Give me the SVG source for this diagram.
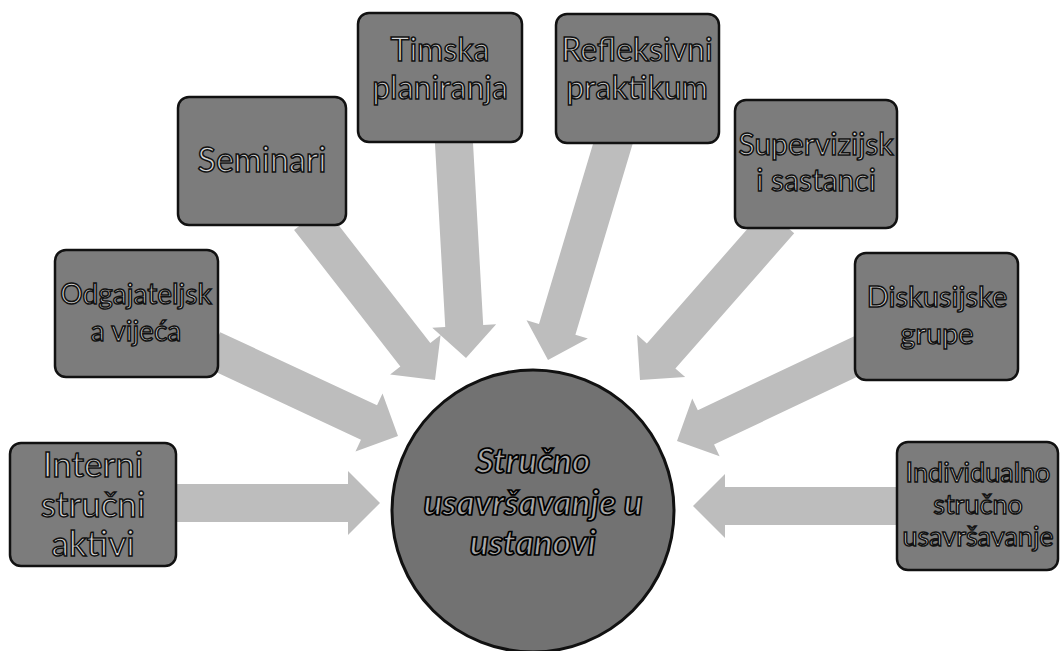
<svg xmlns="http://www.w3.org/2000/svg" width="1060" height="651" viewBox="0 0 1060 651">
<style>
.box{fill:#7c7c7c;stroke:#111;stroke-width:2.5}
.circ{fill:#727272;stroke:#111;stroke-width:3}
.arr{fill:#bdbdbd}
.t{font-family:Lato,"Liberation Sans",sans-serif;text-anchor:middle;fill:#d6d6d6;stroke:#121212;stroke-width:1.5}
.c{font-family:Lato,"Liberation Sans",sans-serif;font-weight:bold;font-style:italic;text-anchor:middle;fill:#a8a8a8;stroke:#000;stroke-width:1.7;font-size:35px}
</style>
<rect width="1060" height="651" fill="#fff"/>
<g id="connectors">
<polygon class="arr" transform="translate(380,503) rotate(0)" points="-205,-19 -32,-19 -32,-32 0,0 -32,32 -32,19 -205,19"/>
<polygon class="arr" transform="translate(693,506) rotate(180)" points="-210,-19 -32,-19 -32,-32 0,0 -32,32 -32,19 -210,19"/>
<polygon class="arr" transform="translate(398,436) rotate(25)" points="-205,-19 -32,-19 -32,-32 0,0 -32,32 -32,19 -205,19"/>
<polygon class="arr" transform="translate(435,380) rotate(52.1)" points="-205,-19 -32,-19 -32,-32 0,0 -32,32 -32,19 -205,19"/>
<polygon class="arr" transform="translate(466,358) rotate(86.8)" points="-225,-19 -32,-19 -32,-32 0,0 -32,32 -32,19 -225,19"/>
<polygon class="arr" transform="translate(548,360) rotate(106.7)" points="-235,-19 -32,-19 -32,-32 0,0 -32,32 -32,19 -235,19"/>
<polygon class="arr" transform="translate(640,380) rotate(131.3)" points="-212,-19 -32,-19 -32,-32 0,0 -32,32 -32,19 -212,19"/>
<polygon class="arr" transform="translate(677,441) rotate(154.7)" points="-205,-19 -32,-19 -32,-32 0,0 -32,32 -32,19 -205,19"/>
</g>
<g id="center">
<circle class="circ" cx="533" cy="511" r="141"/>
<text class="c" x="533" y="473">Stručno</text>
<text class="c" x="533" y="515">usavršavanje u</text>
<text class="c" x="533" y="555">ustanovi</text>
</g>
<g id="interni">
<rect class="box" x="10" y="443" width="166" height="123" rx="11"/>
<text class="t" x="93" y="477" font-size="35">Interni</text>
<text class="t" x="93" y="517" font-size="35">stručni</text>
<text class="t" x="93" y="556" font-size="35">aktivi</text>
</g>
<g id="odgajateljska">
<rect class="box" x="55" y="250" width="163" height="127" rx="11"/>
<text class="t" x="136" y="304" font-size="28">Odgajateljsk</text>
<text class="t" x="136" y="341" font-size="28">a vijeća</text>
</g>
<g id="seminari">
<rect class="box" x="178" y="97" width="168" height="128" rx="11"/>
<text class="t" x="262" y="172" font-size="34">Seminari</text>
</g>
<g id="timska">
<rect class="box" x="358" y="13" width="164" height="129" rx="11"/>
<text class="t" x="440" y="61" font-size="32">Timska</text>
<text class="t" x="440" y="99" font-size="32">planiranja</text>
</g>
<g id="refleksivni">
<rect class="box" x="556" y="14" width="163" height="129" rx="11"/>
<text class="t" x="637" y="61" font-size="32">Refleksivni</text>
<text class="t" x="637" y="99" font-size="32">praktikum</text>
</g>
<g id="supervizijski">
<rect class="box" x="735" y="100" width="162" height="128" rx="11"/>
<text class="t" x="816" y="155" font-size="30">Supervizijsk</text>
<text class="t" x="816" y="191" font-size="30">i sastanci</text>
</g>
<g id="diskusijske">
<rect class="box" x="855" y="253" width="163" height="127" rx="11"/>
<text class="t" x="937" y="307" font-size="29">Diskusijske</text>
<text class="t" x="937" y="344" font-size="29">grupe</text>
</g>
<g id="individualno">
<rect class="box" x="897" y="442" width="161" height="128" rx="11"/>
<text class="t" x="978" y="482" font-size="27">Individualno</text>
<text class="t" x="978" y="514" font-size="27">stručno</text>
<text class="t" x="978" y="546" font-size="27">usavršavanje</text>
</g>
</svg>
